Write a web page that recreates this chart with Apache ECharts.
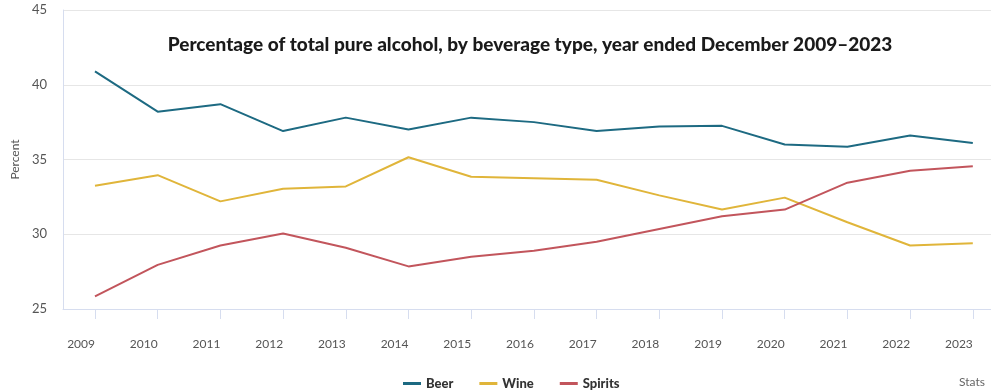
<!DOCTYPE html>
<html>
<head>
<meta charset="utf-8">
<script src="https://cdn.jsdelivr.net/npm/echarts@6/dist/echarts.min.js"></script>
<style>
  html, body { margin: 0; padding: 0; background: #ffffff; }
  #chart { width: 991px; height: 392px; }
</style>
</head>
<body>
<div id="chart"></div>
<script>
const years = [2009, 2010, 2011, 2012, 2013, 2014, 2015, 2016, 2017, 2018, 2019, 2020, 2021, 2022, 2023];
const beer = [40.9, 38.2, 38.7, 36.9, 37.8, 37.0, 37.8, 37.5, 36.9, 37.2, 37.25, 36.0, 35.85, 36.6, 36.1];
const wine = [33.25, 33.95, 32.2, 33.05, 33.2, 35.15, 33.85, 33.75, 33.65, 32.6, 31.65, 32.45, 30.8, 29.25, 29.4];
const spirits = [25.85, 27.95, 29.25, 30.05, 29.1, 27.85, 28.5, 28.9, 29.5, 30.35, 31.2, 31.65, 33.45, 34.25, 34.55];
const yTicks = [25, 30, 35, 40, 45];
const titleText = 'Percentage of total pure alcohol, by beverage type, year ended December 2009\u20132023';

const colors = { Beer: '#1d6a82', Wine: '#e0b53a', Spirits: '#c2555c' };
const FONT = 'Lato, "Open Sans", sans-serif';

const chart = echarts.init(document.getElementById('chart'), null, { renderer: 'canvas' });

function pairs(arr) { return years.map((y, i) => [y, arr[i]]); }

const option = {
  animation: false,
  backgroundColor: '#ffffff',
  title: {
    text: titleText,
    left: 525,
    textAlign: 'center',
    top: 30,
    textStyle: { fontFamily: FONT, fontWeight: 900, fontSize: 19, color: '#1a1a1a' }
  },
  legend: {
    left: 398,
    top: 372,
    itemWidth: 18,
    itemHeight: 3,
    itemGap: 26,
    icon: 'rect',
    textStyle: { fontFamily: FONT, fontWeight: 900, fontSize: 13, color: '#333333' },
    data: ['Beer', 'Wine', 'Spirits']
  },
  graphic: [{
    type: 'text',
    right: 6,
    top: 376,
    style: { text: 'Stats', fontFamily: FONT, fontSize: 12, fill: '#666666' }
  }],
  grid: { left: 63, right: 0, top: 10, bottom: 83, containLabel: false },
  xAxis: {
    type: 'value',
    min: 2008.49,
    max: 2023.29,
    axisLine: { show: true, lineStyle: { color: '#d6ddef', width: 1 } },
    axisTick: { show: true, length: 10, lineStyle: { color: '#d6ddef' }, customValues: years },
    axisLabel: {
      customValues: years,
      formatter: v => String(v),
      align: 'right',
      margin: 29,
      fontFamily: FONT,
      fontSize: 12,
      color: '#555555'
    },
    splitLine: { show: false }
  },
  yAxis: {
    type: 'value',
    min: 25,
    max: 45,
    interval: 5,
    name: 'Percent',
    nameLocation: 'middle',
    nameGap: 40,
    nameTextStyle: { fontFamily: FONT, fontSize: 12, color: '#555555' },
    axisLine: { show: true, lineStyle: { color: '#d6ddef', width: 1 } },
    axisTick: { show: false },
    axisLabel: { margin: 16, fontFamily: FONT, fontSize: 13, color: '#555555', formatter: v => yTicks.includes(v) ? String(v) : '' },
    splitLine: { show: true, lineStyle: { color: '#e6e6e6', width: 1 } }
  },
  series: [
    { name: 'Beer', type: 'line', data: pairs(beer), showSymbol: false, lineStyle: { width: 2, color: colors.Beer }, itemStyle: { color: colors.Beer } },
    { name: 'Wine', type: 'line', data: pairs(wine), showSymbol: false, lineStyle: { width: 2, color: colors.Wine }, itemStyle: { color: colors.Wine } },
    { name: 'Spirits', type: 'line', data: pairs(spirits), showSymbol: false, lineStyle: { width: 2, color: colors.Spirits }, itemStyle: { color: colors.Spirits } }
  ]
};

chart.setOption(option);
</script>
</body>
</html>
